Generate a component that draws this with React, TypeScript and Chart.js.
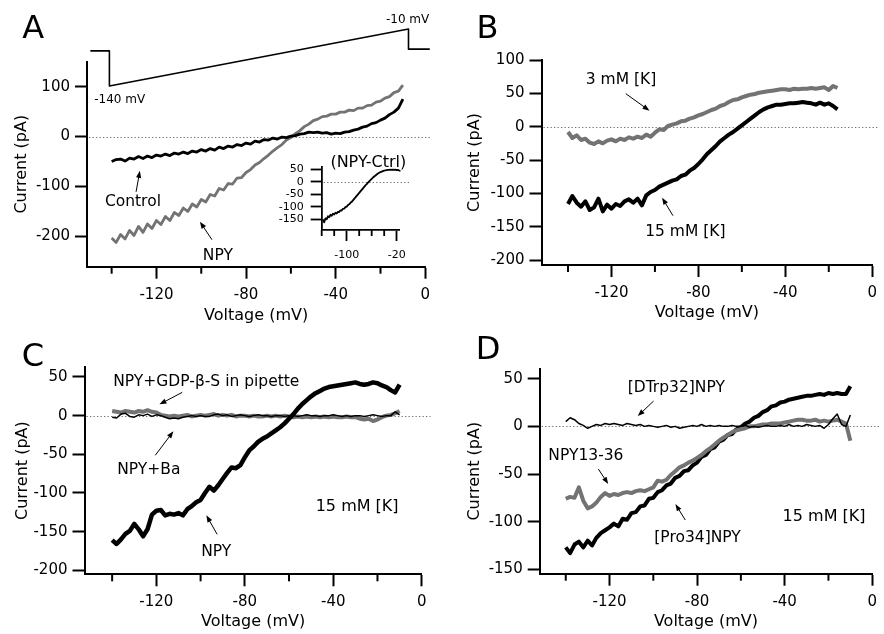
import React, { useEffect, useRef } from "react";
import { Chart, registerables } from "chart.js";

Chart.register(...registerables);

const FONT = '"DejaVu Sans", Verdana, sans-serif';
const BLACK = "#000000";
const GRAY = "#737373";

// ---------------- voltage samples (mV) ----------------
const voltsFull = [-140,-138,-136,-134,-132,-130,-128,-126,-124,-122,-120,-118,-116,-114,-112,-110,-108,-106,-104,-102,-100,-98,-96,-94,-92,-90,-88,-86,-84,-82,-80,-78,-76,-74,-72,-70,-68,-66,-64,-62,-60,-58,-56,-54,-52,-50,-48,-46,-44,-42,-40,-38,-36,-34,-32,-30,-28,-26,-24,-22,-20,-18,-16,-14,-12,-10];
const voltsB = [-140,-138,-136,-134,-132,-130,-128,-126,-124,-122,-120,-118,-116,-114,-112,-110,-108,-106,-104,-102,-100,-98,-96,-94,-92,-90,-88,-86,-84,-82,-80,-78,-76,-74,-72,-70,-68,-66,-64,-62,-60,-58,-56,-54,-52,-50,-48,-46,-44,-42,-40,-38,-36,-34,-32,-30,-28,-26,-24,-22,-20,-18,-16];
const voltsInset = [-138,-136,-134,-132,-130,-128,-126,-124,-122,-120,-118,-116,-114,-112,-110,-108,-106,-104,-102,-100,-98,-96,-94,-92,-90,-88,-86,-84,-82,-80,-78,-76,-74,-72,-70,-68,-66,-64,-62,-60,-58,-56,-54,-52,-50,-48,-46,-44,-42,-40,-38,-36,-34,-32,-30,-28,-26,-24,-22,-20,-18,-16,-14,-12];

// ---------------- Panel A (pA) ----------------
const controlA = [-50,-46,-45,-49,-43,-45,-40,-44,-39,-42,-37,-39,-35,-38,-33,-35,-31,-34,-29,-31,-26,-29,-24,-27,-21,-24,-19,-21,-16,-18,-13,-15,-9,-11,-6,-7,-3,-5,-1,-2,1,2,5,6,9,8,9,7,8,5,7,6,9,10,13,15,19,21,26,28,33,37,44,49,57,75];
const npyA = [-203,-212,-196,-205,-188,-198,-180,-192,-175,-184,-168,-176,-160,-168,-152,-158,-143,-150,-135,-141,-126,-131,-116,-119,-104,-107,-94,-95,-83,-82,-72,-66,-57,-52,-44,-37,-29,-22,-16,-7,-2,6,12,20,25,32,35,40,41,45,45,49,49,53,52,57,57,62,63,69,71,77,80,88,91,103];
const npyMinusCtrl = [-150,-162,-146,-150,-138,-142,-132,-136,-128,-131,-124,-127,-120,-121,-114,-115,-108,-107,-101,-99,-93,-90,-84,-80,-74,-68,-62,-56,-50,-44,-38,-32,-26,-20,-14,-9,-3,2,7,12,17,21,25,29,33,36,39,41,43,45,46,47,48,48,49,48,49,48,49,47,48,45,44,36];
const protocolTime = [-149.5, -141, -141, -7.5, -7.5, 2];
const protocolVolts = [-60, -60, -140, -10, -56, -56];

// ---------------- Panel B ----------------
const k3mM = [-8,-17,-13,-20,-18,-24,-26,-22,-25,-21,-19,-22,-18,-20,-16,-18,-15,-17,-12,-15,-9,-4,-5,1,3,5,8,9,12,14,17,19,22,25,27,31,33,37,40,41,44,46,48,49,51,52,53,54,55,56,56,55,57,56,57,57,58,57,58,59,55,61,58];
const k15mM = [-116,-104,-114,-120,-112,-125,-121,-108,-127,-117,-123,-116,-119,-112,-109,-114,-108,-118,-103,-98,-95,-90,-87,-84,-81,-79,-74,-72,-66,-62,-56,-49,-41,-35,-29,-22,-17,-12,-8,-3,2,7,12,17,22,26,29,31,33,33,34,35,35,36,37,36,35,33,36,33,35,31,26];

// ---------------- Panel C ----------------
const npyC = [-161,-166,-160,-153,-149,-140,-147,-156,-147,-128,-123,-122,-129,-127,-128,-126,-129,-121,-117,-112,-109,-100,-92,-97,-90,-82,-74,-67,-68,-64,-54,-45,-40,-34,-30,-27,-23,-19,-15,-10,-4,2,9,15,20,25,29,32,35,37,38,39,40,41,42,43,41,40,41,43,42,39,37,33,30,40];
const gdpC = [6,5,4,6,5,4,6,5,7,5,4,1,0,-1,0,-1,0,1,-1,0,1,0,1,2,0,1,0,1,-1,0,0,-1,0,-1,-1,0,-1,0,-1,0,-1,-2,-1,-2,-1,-2,-1,-2,-1,-2,-1,-2,-2,-1,-2,-2,-4,-5,-4,-7,-5,-2,0,1,3,6];
const baC = [-2,-3,2,3,-1,-2,1,0,2,-1,1,0,-2,-4,-3,-4,-2,-1,0,-1,0,-1,-1,1,2,0,1,-1,0,1,0,-1,0,1,0,0,-1,0,0,-1,0,0,-1,0,1,0,0,-1,0,0,1,0,-1,0,-1,0,0,-1,0,1,0,-1,0,0,5,1];

// ---------------- Panel D ----------------
const pro34D = [-127,-133,-124,-121,-127,-120,-125,-117,-112,-109,-106,-102,-105,-97,-98,-91,-90,-84,-83,-76,-75,-69,-67,-62,-60,-54,-52,-47,-46,-41,-38,-32,-30,-24,-22,-16,-14,-9,-8,-3,-1,3,5,9,11,15,17,21,22,25,26,28,29,30,31,32,32,33,34,33,35,34,35,34,34,42];
const npy1336D = [-76,-74,-75,-64,-78,-86,-84,-80,-74,-70,-73,-71,-72,-70,-69,-70,-68,-67,-68,-66,-64,-57,-58,-56,-51,-47,-43,-41,-38,-36,-33,-30,-26,-23,-19,-15,-12,-9,-6,-4,-3,-2,0,0,1,2,2,3,3,3,4,5,6,7,7,6,6,7,5,6,5,6,7,5,3,-15];
const dtrp32D = [5,9,7,3,1,-2,0,2,1,3,2,3,2,1,3,2,1,2,0,1,0,-1,0,1,-1,0,-2,-1,0,1,0,2,0,1,0,1,0,0,1,0,0,1,-1,0,-1,0,1,0,0,1,0,2,0,1,0,2,1,0,1,-2,2,8,13,2,0,12];

// ---------------- ticks ----------------
const xTicksMain = [-140, -120, -100, -80, -60, -40, -20, 0];
const xMajorMain = [-120, -80, -40, 0];
const yTicksA = [-200, -100, 0, 100];
const yTicksB = [-200, -150, -100, -50, 0, 50, 100];
const yTicksC = [-200, -150, -100, -50, 0, 50];
const yTicksD = [-150, -100, -50, 0, 50];
const xTicksInset = [-140, -120, -100, -80, -60, -40, -20];
const xMajorInset = [-100, -20];
const yTicksInset = [-150, -100, -50, 0, 50];

// ---------------- panel specs ----------------
const specA: any = {
  area: { left: 87, right: 425.3, top: 61.7, bottom: 266.7 },
  xMin: -151, xMax: 0, yMin: -260.6, yMax: 150,
  xTicks: xTicksMain, xMajor: xMajorMain, yTicks: yTicksA,
  yTitle: "Current (pA)", yTitleX: 21.7, xTitle: "Voltage (mV)", xTitleY: 316,
  tickSize: 15, majorLen: 12, minorLen: 7, yTickLen: 12, xPad: 7, yPad: 5, axisW: 2,
  zeroEnd: 2,
  series: [
    { x: voltsFull, y: controlA, color: BLACK, width: 2.8 },
    { x: voltsFull, y: npyA, color: GRAY, width: 2.8 },
    { x: protocolTime, y: protocolVolts, color: BLACK, width: 1.6, axis: "yP" },
  ],
  extraScales: { yP: { type: "linear", display: false, min: -552.1, max: -84.58 } },
  notes: [
    { text: "Control", x: -130.5, y: -128.6, arrow: [-129.1, -110.6, -127.4, -68.6] },
    { text: "NPY", x: -92.6, y: -236.6, arrow: [-95.2, -206.6, -100.6, -170.6] },
    { text: "-140 mV", x: -136.4, y: -169.6, axis: "yP", size: 12 },
    { text: "-10 mV", x: -7.9, y: 14.4, axis: "yP", size: 12 },
  ],
  letter: { text: "A", x: 33.3, y: 26.7 },
};

const specInset: any = {
  area: { left: 321.7, right: 400, top: 166.7, bottom: 230 },
  xMin: -140, xMax: -14.7, yMin: -192.8, yMax: 60.4,
  xTicks: xTicksInset, xMajor: xMajorInset, yTicks: yTicksInset,
  tickSize: 11, majorLen: 11, minorLen: 6, yTickLen: 11, xPad: 7.5, yPad: 7, axisW: 1.8,
  zeroEnd: 0,
  series: [{ x: voltsInset, y: npyMinusCtrl, color: BLACK, width: 1.8 }],
  notes: [{ text: "(NPY-Ctrl)", x: -65.4, y: 80.4, size: 16 }],
};

const specB: any = {
  area: { left: 541.5, right: 878, top: 60, bottom: 265 },
  xMin: -152.2, xMax: 0, yMin: -207.5, yMax: 100,
  xTicks: xTicksMain, xMajor: xMajorMain, yTicks: yTicksB,
  yTitle: "Current (pA)", yTitleX: 475.3, xTitle: "Voltage (mV)", xTitleY: 313,
  tickSize: 15, majorLen: 12, minorLen: 7, yTickLen: 12, xPad: 7, yPad: 5, axisW: 2,
  zeroEnd: 3,
  series: [
    { x: voltsB, y: k15mM, color: BLACK, width: 4 },
    { x: voltsB, y: k3mM, color: GRAY, width: 4 },
  ],
  notes: [
    { text: "3 mM [K]", x: -115.6, y: 72, arrow: [-113.4, 49.5, -102.5, 24] },
    { text: "15 mM [K]", x: -86, y: -156, arrow: [-91.7, -133.5, -96.7, -106.5] },
  ],
  letter: { text: "B", x: 487.5, y: 26.7 },
};

const specC: any = {
  area: { left: 84.5, right: 421.7, top: 367, bottom: 574.3 },
  xMin: -152.5, xMax: 0, yMin: -205.2, yMax: 62.9,
  xTicks: xTicksMain, xMajor: xMajorMain, yTicks: yTicksC,
  yTitle: "Current (pA)", yTitleX: 23.3, xTitle: "Voltage (mV)", xTitleY: 622,
  tickSize: 15, majorLen: 12, minorLen: 7, yTickLen: 12, xPad: 7, yPad: 5, axisW: 2,
  zeroEnd: 4,
  series: [
    { x: voltsFull, y: npyC, color: BLACK, width: 4.5 },
    { x: voltsFull, y: baC, color: BLACK, width: 1.5 },
    { x: voltsFull, y: gdpC, color: GRAY, width: 4 },
  ],
  notes: [
    { text: "NPY+GDP-\u03B2-S in pipette", x: -97.4, y: 45.6, arrow: [-108.3, 30.1, -118.6, 14.6] },
    { text: "NPY+Ba", x: -123.4, y: -68.1, arrow: [-120.5, -51.3, -112.3, -20.3] },
    { text: "NPY", x: -92.9, y: -174.2, arrow: [-92.5, -153.5, -97.4, -128.9] },
    { text: "15 mM [K]", x: -29.2, y: -116, size: 16 },
  ],
  letter: { text: "C", x: 33, y: 354 },
};

const specD: any = {
  area: { left: 539.7, right: 876.3, top: 368.7, bottom: 573.7 },
  xMin: -151.9, xMax: 0, yMin: -154.6, yMax: 60.5,
  xTicks: xTicksMain, xMajor: xMajorMain, yTicks: yTicksD,
  yTitle: "Current (pA)", yTitleX: 475.3, xTitle: "Voltage (mV)", xTitleY: 622,
  tickSize: 15, majorLen: 12, minorLen: 7, yTickLen: 12, xPad: 7, yPad: 5, axisW: 2,
  zeroEnd: 3.5,
  series: [
    { x: voltsFull, y: dtrp32D, color: BLACK, width: 1.5 },
    { x: voltsFull, y: npy1336D, color: GRAY, width: 4 },
    { x: voltsFull, y: pro34D, color: BLACK, width: 4 },
  ],
  notes: [
    { text: "[DTrp32]NPY", x: -89.5, y: 42.3, arrow: [-99.9, 26.5, -107.1, 10.8] },
    { text: "NPY13-36", x: -130.8, y: -29.1, arrow: [-125.1, -44.8, -120.6, -60.5] },
    { text: "[Pro34]NPY", x: -79.8, y: -115.1, arrow: [-85.4, -98.3, -89.9, -81.5] },
    { text: "15 mM [K]", x: -22, y: -93.1, size: 16 },
  ],
  letter: { text: "D", x: 488, y: 347 },
};

// ---------------- drawing helpers ----------------
function drawArrow(ctx: CanvasRenderingContext2D, x1: number, y1: number, x2: number, y2: number) {
  const ang = Math.atan2(y2 - y1, x2 - x1);
  const L = 7, W = 2.6;
  ctx.beginPath();
  ctx.moveTo(x1, y1);
  ctx.lineTo(x2 - (L - 1) * Math.cos(ang), y2 - (L - 1) * Math.sin(ang));
  ctx.stroke();
  ctx.beginPath();
  ctx.moveTo(x2, y2);
  ctx.lineTo(x2 - L * Math.cos(ang) + W * Math.sin(ang), y2 - L * Math.sin(ang) - W * Math.cos(ang));
  ctx.lineTo(x2 - L * Math.cos(ang) - W * Math.sin(ang), y2 - L * Math.sin(ang) + W * Math.cos(ang));
  ctx.closePath();
  ctx.fill();
}

function decorPlugin(spec: any) {
  return {
    id: "decor",
    beforeDatasetsDraw(chart: any) {
      const { ctx, chartArea } = chart;
      const xs = chart.scales.x;
      const ys = chart.scales.y;
      const y0 = Math.round(ys.getPixelForValue(0)) + 0.5;
      ctx.save();
      ctx.strokeStyle = "#707070";
      ctx.lineWidth = 1;
      ctx.setLineDash([1.3, 2.2]);
      ctx.beginPath();
      ctx.moveTo(chartArea.left + 2, y0);
      ctx.lineTo(xs.getPixelForValue(spec.zeroEnd), y0);
      ctx.stroke();
      ctx.restore();
    },
    afterDraw(chart: any) {
      const { ctx, chartArea } = chart;
      const xs = chart.scales.x;
      ctx.save();
      // minor x ticks
      ctx.strokeStyle = BLACK;
      ctx.lineWidth = spec.axisW;
      for (const v of spec.xTicks) {
        if (spec.xMajor.includes(v)) continue;
        const px = xs.getPixelForValue(v);
        ctx.beginPath();
        ctx.moveTo(px, chartArea.bottom);
        ctx.lineTo(px, chartArea.bottom + spec.minorLen);
        ctx.stroke();
      }
      // notes
      ctx.fillStyle = BLACK;
      ctx.strokeStyle = BLACK;
      ctx.lineWidth = 1;
      ctx.textAlign = "center";
      ctx.textBaseline = "alphabetic";
      for (const n of spec.notes || []) {
        const ys = chart.scales[n.axis || "y"];
        const size = n.size || 15.5;
        ctx.font = `${size}px ${FONT}`;
        const px = xs.getPixelForValue(n.x);
        const py = ys.getPixelForValue(n.y);
        ctx.fillText(n.text, px, py + 0.36 * size);
        if (n.arrow) {
          const [ax1, ay1, ax2, ay2] = n.arrow;
          drawArrow(ctx, xs.getPixelForValue(ax1), ys.getPixelForValue(ay1), xs.getPixelForValue(ax2), ys.getPixelForValue(ay2));
        }
      }
      if (spec.letter) {
        ctx.font = `32px ${FONT}`;
        ctx.fillText(spec.letter.text, spec.letter.x, spec.letter.y + 0.365 * 32);
      }
      ctx.restore();
    },
  };
}

function buildConfig(spec: any) {
  const W = 884, H = 634;
  const tSize = 16;
  const lh = tSize * 1.2;
  const a = spec.area;
  const padLeft = spec.yTitle ? spec.yTitleX - lh / 2 : a.left - 70;
  const yBoxW = a.left - padLeft;
  const xBottom = spec.xTitle ? spec.xTitleY + lh / 2 : a.bottom + 32;
  const xBoxH = xBottom - a.bottom;

  const datasets = spec.series.map((s: any) => ({
    data: s.x.map((x: number, i: number) => ({ x, y: s.y[i] })),
    borderColor: s.color,
    backgroundColor: s.color,
    borderWidth: s.width,
    pointRadius: 0,
    tension: 0,
    fill: false,
    clip: false,
    borderJoinStyle: "round",
    yAxisID: s.axis || "y",
  }));

  const tickFont = { family: FONT, size: spec.tickSize };
  const titleFont = { family: FONT, size: tSize };

  const scales: any = {
    x: {
      type: "linear",
      position: "bottom",
      min: spec.xMin,
      max: spec.xMax,
      afterFit: (sc: any) => { sc.height = xBoxH; },
      afterBuildTicks: (sc: any) => { sc.ticks = spec.xTicks.map((v: number) => ({ value: v })); },
      ticks: {
        autoSkip: false, maxRotation: 0, minRotation: 0, padding: spec.xPad, color: BLACK, font: tickFont,
        callback: (v: number) => (spec.xMajor.includes(v) ? String(v) : ""),
      },
      grid: {
        display: true, drawOnChartArea: false, drawTicks: true, tickLength: spec.majorLen, tickWidth: spec.axisW,
        tickColor: (c: any) => (c.tick && spec.xMajor.includes(c.tick.value) ? BLACK : "rgba(0,0,0,0)"),
      },
      border: { display: true, color: BLACK, width: spec.axisW },
      title: { display: !!spec.xTitle, text: spec.xTitle || "", color: BLACK, font: titleFont, padding: 0 },
    },
    y: {
      type: "linear",
      position: "left",
      min: spec.yMin,
      max: spec.yMax,
      afterFit: (sc: any) => { sc.width = yBoxW; },
      afterBuildTicks: (sc: any) => { sc.ticks = spec.yTicks.map((v: number) => ({ value: v })); },
      ticks: { autoSkip: false, padding: spec.yPad, color: BLACK, font: tickFont, callback: (v: number) => String(v) },
      grid: {
        display: true, drawOnChartArea: false, drawTicks: true, tickLength: spec.yTickLen, tickWidth: spec.axisW, tickColor: BLACK,
      },
      border: { display: true, color: BLACK, width: spec.axisW },
      title: { display: !!spec.yTitle, text: spec.yTitle || "", color: BLACK, font: titleFont, padding: 0 },
    },
  };
  if (spec.extraScales) Object.assign(scales, spec.extraScales);

  return {
    type: "line",
    data: { datasets },
    options: {
      animation: false,
      responsive: false,
      devicePixelRatio: 1,
      events: [],
      layout: {
        autoPadding: false,
        padding: { left: padLeft, right: W - a.right, top: a.top, bottom: H - xBottom },
      },
      plugins: { legend: { display: false }, tooltip: { enabled: false }, title: { display: false } },
      scales,
    },
    plugins: [decorPlugin(spec)],
  };
}

function ChartLayer({ spec }: { spec: any }) {
  const ref = useRef<HTMLCanvasElement | null>(null);
  useEffect(() => {
    if (!ref.current) return;
    const chart = new Chart(ref.current, buildConfig(spec) as any);
    return () => chart.destroy();
  }, [spec]);
  return (
    <canvas
      ref={ref}
      width={884}
      height={634}
      style={{ position: "absolute", left: 0, top: 0, width: 884, height: 634 }}
    />
  );
}

export default function App() {
  return (
    <div style={{ position: "fixed", left: 0, top: 0, width: 884, height: 634, background: "#ffffff", overflow: "hidden" }}>
      <ChartLayer spec={specA} />
      <ChartLayer spec={specInset} />
      <ChartLayer spec={specB} />
      <ChartLayer spec={specC} />
      <ChartLayer spec={specD} />
    </div>
  );
}
